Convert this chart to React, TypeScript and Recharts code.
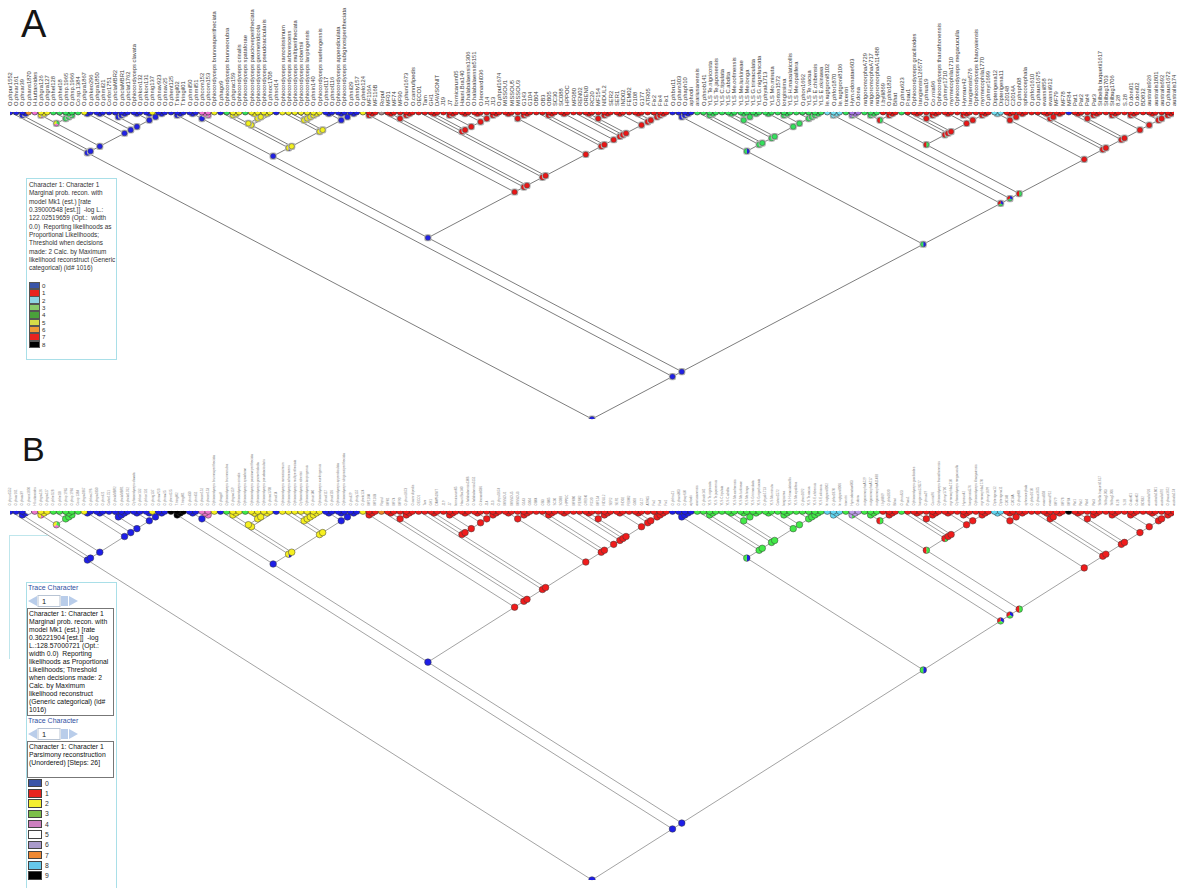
import React from 'react';
import { ScatterChart, Scatter, XAxis, YAxis, ReferenceLine } from 'recharts';

// ---------------- DATA ----------------
const tipNames: string[] = [
  'O.phpur1552', 'O.phvar161', 'O.phvar39', 'O.phans1870', 'H.kuttaroides', 'O.phgra126', 'O.phgra127', 'O.phhel128', 'O.phhel18', 'O.phsp.1965',
  'O.phsp.1966', 'Co.sp.1384', 'O.phgra1867', 'O.phkeo296', 'O.phgra1850', 'O.phmil21', 'Corfor1751', 'O.phclaMBR2', 'O.phclaMBR1', 'O.phclat1762',
  'Ophiocordyceps clavata', 'O.phkon132', 'O.phkon131', 'O.phnig137', 'O.phnav923', 'O.phnav25', 'O.phent125', 'T.tringil02', 'T.tringil01', 'O.phmil50',
  'O.phmil51', 'O.phcom152', 'O.phcom153', 'Ophiocordyceps brunneaperitheciata', 'O.phago9', 'Ophiocordyceps brunneorubra', 'O.phgrac159', 'Ophiocordyceps crinalis', 'Ophiocordyceps spataforae', 'Ophiocordyceps paucioveperitheciata',
  'Ophiocordyceps geometridicola', 'Ophiocordyceps pseudoacicularis', 'O.phnoc1708', 'O.phsol14', 'Ophiocordyceps ramosissimum', 'Ophiocordyceps arborescens', 'Ophiocordyceps multiperitheciata', 'Ophiocordyceps robertsii', 'Ophiocordyceps lanpingensis', 'O.phsin140',
  'Ophiocordyceps xuefengensis', 'O.phsol117', 'O.phsol116', 'Ophiocordyceps appendiculata', 'Ophiocordyceps rubiginosiperitheciata', 'O.phsil29', 'O.phsty157', 'O.phelo124', 'MF116A', 'MF116B',
  'Ropul', 'MF01', 'MF74', 'MF90', 'O.phuni1673', 'O.camrufipedis', 'OECO1', 'Tam', 'GH1', 'DAWSONIT',
  'J19', 'J7', 'formicarum05', 'Hauni.Bra140', 'O.halabalaensis1306', 'O.halabalaensis5151', 'O.leonardi036', 'J14', 'J13', 'O.phpul1674',
  'MISSOU1', 'MISSOU5', 'MISSOU3', 'G143', 'G104', 'OB04', 'OB3', 'OB05', 'SC30', 'SC088',
  'HPPOC', 'MF080', 'REN02', 'OREN0', 'RC20', 'MF154', 'NIDUL2', 'SER2', 'SER1', 'IND02',
  'FEM02', 'G108', 'G177', 'ATR05', 'Fix2', 'Fix4', 'Fix1', 'O.phbru11', 'O.pham303', 'O.phaph10',
  'aphodii', 'arariusanensis', 'O.phsob141', 'YLS Te.nigricosta', 'YLS Te.japonensis', 'YLS C.tipulata', 'YLS C.abdita', 'YLS Me.oofmensis', 'YLS Me.lurkineae', 'YLS Me.longa',
  'YLS G.trimaculata', 'YLS G.nigrofuscata', 'O.phyak1713', 'YLS Mo.minuta', 'Corton1572', 'longissima', 'YLS H.maculaticollis', 'YLS Me.opalifera', 'O.phon1692', 'YLS Te.vacua',
  'YLS E.chibensis', 'YLS E.okinawa', 'Ie.rugtgroni8102', 'O.phfor1870', 'Ie.rugtgroni8106', 'tricentri', 'Hym.odonatae603', 'O.dona', 'nutgoromorphaA729', 'nutgoromorphaA717',
  'nutgoromorphaA11488', 'I.bylli869', 'O.phlo1820', 'Bihat', 'O.phnu623', 'P.sau1', 'Ophiocordyceps gracilioides', 'Irangiensis126577', 'O.phrua19', 'Co.rnia96',
  'Ophiocordyceps thanathonensis', 'O.phmyr1710', 'myrmecophila1710', 'Ophiocordyceps megacuculla', 'Hymsun42', 'Irangiensis576', 'Ophiocordyceps khaoyaiensis', 'myrmecophila1770', 'O.phmyr1699', 'Dipterigena12',
  'Dipterigena11', 'C20148', 'C2014A', 'O.phsph08', 'sphecocephala', 'O.phfor1610', 'O.phaus1675', 'evansii858', 'evansii912', 'MF79',
  'MF78', 'MF84', 'Pat1', 'Pat2', 'Pat4', 'Pat3', 'Stilbella buquetii1617', 'Stilbug1703', 'Stilbug1706', '8.28',
  'S.28', 'O.doni01', 'O.doni02', 'BD832', 'australis926', 'australis1801', 'australis692', 'O.phaus1672', 'australis174',
];

// tip character states, one letter per taxon, left to right
const tipStatesA: string[] = [
  'bbbopyygggggy', 'bbbbbbbbbb', 'y', 'bbbbbbb', 'ppybgyygyyyyb', 'yyyyyyy', 'bbbbbb', 'y', 'rrn',
  'rrrrrrrrrr', 'rrrrrrrrrr', 'rrrrrrrrrr', 'rrrrrrrrrr', 'rrrrrr',
  'bbbb', 'gggggggggg', 'gggggggggg', 'g', 'ccc', 'g', 'vv', 'ggg', 'rrr', 'g',
  'rrrrrrrrrr', 'rrrr', 'cc', 'rrrrrrrrrr', 'b', 'rrrrrrrrrr', 'rrrrrrr',
].join('').split('');

const tipStatesB: string[] = [
  'bbbwpyygggggy', 'bbbbbbbbbb', 'y', 'bbkkkbb', 'ppybgyygyyyyb', 'yyyyyyy', 'bbbbbb', 'y', 'rro',
  'rrrrrrrrrr', 'rrrrrrrrrr', 'rrrrrrrrrr', 'rrrrrrrrrr', 'rrrrrr',
  'bbbb', 'gggggggggg', 'gggggggggg', 'g', 'ccc', 'g', 'vv', 'ggg', 'rrr', 'g',
  'rrrrrrrrrr', 'rrrr', 'cc', 'rrrrrrrrrr', 'k', 'rrrrrrrrrr', 'rrrrrrr',
].join('').split('');

// clades: [first taxon, last taxon, reconstructed state (panel A), state in panel B if different]
const clades: [number, number, string, string?][] = [
  [0, 188, 'b'],
  [0, 25, 'b'], [1, 25, 'b'], [1, 3, 'b'], [2, 3, 'b'], [4, 25, 'b'], [4, 11, 'gpy'], [4, 6, 'py'], [5, 6, 'y'],
  [7, 11, 'g'], [8, 11, 'g'], [9, 11, 'g'], [9, 10, 'g'],
  [12, 25, 'b'], [12, 13, 'b'], [14, 25, 'b'], [14, 15, 'b'], [16, 25, 'b'], [16, 19, 'b'], [17, 19, 'b'], [18, 19, 'b'],
  [20, 25, 'b'], [20, 21, 'b'], [22, 25, 'b'], [22, 23, 'b'], [24, 25, 'b'],
  [26, 188, 'b'], [26, 28, 'b', 'k'], [27, 28, 'b', 'k'],
  [29, 188, 'b'],
  [29, 106, 'b'],
  [29, 56, 'b'], [29, 33, 'b'], [29, 30, 'b'], [31, 33, 'p'], [31, 32, 'p'],
  [34, 56, 'by'], [35, 56, 'y'], [35, 43, 'y'], [35, 42, 'y'], [35, 37, 'y'], [36, 37, 'y'], [38, 42, 'y'], [39, 42, 'y'], [39, 40, 'y'], [41, 42, 'y'],
  [44, 56, 'y'], [45, 56, 'y'], [45, 50, 'y'], [46, 50, 'y'], [47, 50, 'y'], [48, 50, 'y'], [49, 50, 'y'],
  [51, 56, 'b'], [51, 52, 'b'], [53, 56, 'b'], [53, 54, 'b'], [55, 56, 'b'],
  [57, 106, 'r'], [57, 59, 'r'], [58, 59, 'r'], [60, 106, 'r'], [61, 106, 'r'], [61, 65, 'r'], [61, 62, 'r'], [63, 65, 'r'], [64, 65, 'r'],
  [66, 106, 'r'], [67, 106, 'r'],
  [67, 79, 'r'], [68, 79, 'r'], [68, 69, 'r'], [70, 79, 'r'], [70, 72, 'r'], [71, 72, 'r'], [73, 79, 'r'], [73, 74, 'r'],
  [75, 79, 'r'], [75, 76, 'r'], [77, 79, 'r'], [78, 79, 'r'],
  [80, 106, 'r'], [80, 84, 'r'], [80, 81, 'r'], [82, 84, 'r'], [83, 84, 'r'], [85, 106, 'r'], [86, 106, 'r'], [86, 88, 'r'], [87, 88, 'r'],
  [89, 106, 'r'], [89, 90, 'r'], [91, 106, 'r'], [92, 106, 'r'], [93, 106, 'r'], [93, 97, 'r'], [93, 94, 'r'], [95, 97, 'r'], [96, 97, 'r'],
  [98, 106, 'r'], [98, 99, 'r'], [100, 106, 'r'], [101, 106, 'r'], [101, 102, 'r'], [103, 106, 'r'], [104, 106, 'r'], [105, 106, 'r'],
  [107, 188, 'bg'],
  [107, 131, 'bg'], [107, 110, 'b'], [108, 110, 'b'], [109, 110, 'b'], [111, 131, 'g'], [112, 131, 'g'], [112, 114, 'g'], [113, 114, 'g'],
  [115, 131, 'g'], [116, 131, 'g'], [116, 121, 'g'], [116, 117, 'g'], [118, 121, 'g'], [118, 119, 'g'], [120, 121, 'g'],
  [122, 131, 'g'], [122, 123, 'g'], [124, 131, 'g'], [124, 126, 'g'], [125, 126, 'g'], [127, 131, 'g'], [128, 131, 'g'], [129, 131, 'g'], [130, 131, 'g'],
  [132, 188, 'bgr'], [132, 134, 'c'], [133, 134, 'c'], [135, 188, 'bgr'], [135, 137, 'gv'], [136, 137, 'v'], [138, 188, 'gr'],
  [138, 158, 'gr'], [138, 143, 'gr'], [138, 140, 'g'], [139, 140, 'g'], [141, 143, 'r'], [142, 143, 'r'], [144, 158, 'gr'], [145, 158, 'r'],
  [146, 158, 'r'], [146, 150, 'r'], [146, 147, 'r'], [148, 150, 'r'], [149, 150, 'r'], [151, 158, 'r'], [151, 152, 'r'],
  [153, 158, 'r'], [153, 155, 'r'], [154, 155, 'r'], [156, 158, 'r'], [157, 158, 'r'],
  [159, 188, 'r'], [159, 164, 'r'], [159, 160, 'c'], [161, 164, 'r'], [161, 162, 'r'], [163, 164, 'r'], [165, 188, 'r'], [166, 188, 'r'],
  [166, 170, 'r'], [167, 170, 'r'], [167, 168, 'r'], [169, 170, 'r'], [171, 188, 'r'], [172, 188, 'r'], [172, 176, 'r'], [172, 173, 'r'],
  [174, 176, 'r'], [175, 176, 'r'], [177, 188, 'r'], [177, 179, 'r'], [178, 179, 'r'], [180, 188, 'r'], [180, 182, 'r'], [181, 182, 'r'],
  [183, 188, 'r'], [184, 188, 'r'], [184, 185, 'r'], [186, 188, 'r'], [187, 188, 'r'],
];

const legendStatesA = ['0', '1', '2', '3', '4', '5', '6', '7', '8'];
const legendColorsA = ['#3a55a8', '#e8231f', '#8fd4e3', '#8acb6a', '#4aa03a', '#d6dc48', '#f09a36', '#e8231f', '#000000'];
const legendStatesB = ['0', '1', '2', '3', '4', '5', '6', '7', '8', '9'];
const legendColorsB = ['#3a55a8', '#e8231f', '#f5ee30', '#7cbf4a', '#cc7fbf', '#ffffff', '#a99acb', '#ee8833', '#66c8ea', '#000000'];

const legendTextA = [
  'Character 1: Character 1',
  'Marginal prob. recon. with',
  'model Mk1 (est.) [rate',
  '0.39000548 [est.]]  -log L.:',
  '122.02519659 (Opt.:  width',
  '0.0)  Reporting likelihoods as',
  'Proportional Likelihoods;',
  'Threshold when decisions',
  'made: 2 Calc. by Maximum',
  'likelihood reconstruct (Generic',
  'categorical) (id# 1016)',
];
const legendTextB1 = [
  'Character 1: Character 1',
  'Marginal prob. recon. with',
  'model Mk1 (est.) [rate',
  '0.36221904 [est.]]  -log',
  'L.:128.57000721 (Opt.:',
  'width 0.0)  Reporting',
  'likelihoods as Proportional',
  'Likelihoods; Threshold',
  'when decisions made: 2',
  'Calc. by Maximum',
  'likelihood reconstruct',
  '(Generic categorical) (id#',
  '1016)',
];
const legendTextB2 = ['Character 1: Character 1', 'Parsimony reconstruction', '(Unordered) [Steps: 26]'];

const paletteA: Record<string, string> = {
  b: '#2020e6', r: '#ea1616', y: '#f2f020', g: '#34e05c', c: '#72def0', p: '#f070d2', v: '#a676e2', o: '#f0922c', n: '#a89090', k: '#111111', w: '#ffffff',
};
const paletteB: Record<string, string> = {
  b: '#1e1ee8', r: '#f01c1c', y: '#f6f020', g: '#42ea48', c: '#62d6f2', p: '#ee78cc', v: '#bc9ee8', o: '#f08a28', n: '#a89090', k: '#000000', w: '#ffffff',
};

// ---------------- TREE LAYOUT (slanted cladogram) ----------------
type Pt = { x: number; y: number; st: string };
type Seg = { x1: number; y1: number; x2: number; y2: number };

function buildTree(tipStates: string[], panel: 'A' | 'B') {
  const n = tipStates.length;
  const list = clades.map((c) => ({ a: c[0], b: c[1], st: panel === 'B' && c[3] ? c[3] : c[2] }));
  const sorted = [...list].sort((p, q) => (p.b - p.a) - (q.b - q.a));
  const parentOf = new Map<any, any>();
  sorted.forEach((c, i) => {
    for (let j = i + 1; j < sorted.length; j++) {
      const d = sorted[j];
      if (d.a <= c.a && d.b >= c.b && (d.b - d.a) > (c.b - c.a)) { parentOf.set(c, d); break; }
    }
  });
  const nodes: Pt[] = [];
  const segs: Seg[] = [];
  list.forEach((c) => {
    const px = (c.a + c.b) / 2;
    const py = (c.b - c.a) / 2;
    nodes.push({ x: px, y: py, st: c.st });
    const kids = list.filter((d) => parentOf.get(d) === c);
    kids.forEach((d) => segs.push({ x1: px, y1: py, x2: (d.a + d.b) / 2, y2: (d.b - d.a) / 2 }));
    for (let i = c.a; i <= c.b; i++) {
      if (!kids.some((d) => d.a <= i && i <= d.b)) segs.push({ x1: px, y1: py, x2: i, y2: 0 });
    }
  });
  const tips: Pt[] = tipStates.map((s, i) => ({ x: i, y: 0, st: s }));
  return { nodes, segs, tips, n };
}

// ---------------- SHAPES ----------------
function pieShape(cx: number, cy: number, r: number, colors: string[], stroke: string, sw: number, key?: string) {
  if (colors.length === 1) return <circle key={key} cx={cx} cy={cy} r={r} fill={colors[0]} stroke={stroke} strokeWidth={sw} />;
  const k = colors.length;
  return (
    <g key={key}>
      {colors.map((col, i) => {
        const a0 = -Math.PI / 2 + (2 * Math.PI * i) / k;
        const a1 = -Math.PI / 2 + (2 * Math.PI * (i + 1)) / k;
        const d = `M${cx},${cy} L${cx + r * Math.cos(a0)},${cy + r * Math.sin(a0)} A${r},${r} 0 0 1 ${cx + r * Math.cos(a1)},${cy + r * Math.sin(a1)} Z`;
        return <path key={i} d={d} fill={col} />;
      })}
      <circle cx={cx} cy={cy} r={r} fill="none" stroke={stroke} strokeWidth={sw} />
    </g>
  );
}

const TreePanel = ({ panel, top, height, marginTop, axisH, marginBottom, maxDepth }: any) => {
  const tipStates = panel === 'A' ? tipStatesA : tipStatesB;
  const pal = panel === 'A' ? paletteA : paletteB;
  const { nodes, segs, tips, n } = buildTree(tipStates, panel);
  const ticks = tips.map((t) => t.x);
  const isA = panel === 'A';
  const labelSize = isA ? 5.8 : 3.1;
  const labelFill = isA ? '#3c3c3c' : '#808080';
  const labelGap = isA ? 6 : 5.5;

  const TipLabel = (props: any) => {
    const { x, y, payload } = props;
    const yy = y - labelGap;
    return (
      <text x={x} y={yy} dy={labelSize * 0.36} transform={`rotate(-90 ${x} ${yy})`} fontSize={labelSize}
        fill={labelFill} fontFamily="'Liberation Sans', Arial, sans-serif" textAnchor="start">
        {tipNames[payload.value]}
      </text>
    );
  };

  const nodeShape = (props: any) => {
    const { cx, cy, payload } = props;
    if (cx == null || cy == null) return <g />;
    const cols = payload.st.split('').map((s: string) => pal[s]);
    if (isA) {
      return (
        <g>
          <rect x={cx - 3.6} y={cy - 3.6} width={7.2} height={7.2} rx={2.2} fill="#b4b4b4" />
          {pieShape(cx, cy, 2.6, cols, '#444', 0.4)}
        </g>
      );
    }
    return pieShape(cx, cy, 3.3, cols, '#3a3a3a', 0.5);
  };
  const tipShape = (props: any) => {
    const { cx, cy, payload } = props;
    if (cx == null || cy == null) return <g />;
    return pieShape(cx, cy, isA ? 3.0 : 3.4, [pal[payload.st]], '#2a2a2a', isA ? 0.6 : 0.5);
  };

  return (
    <div style={{ position: 'absolute', left: 0, top, width: 1177, height }}>
      <ScatterChart width={1177} height={height} margin={{ top: marginTop, left: 10, right: 3, bottom: marginBottom }}>
        <XAxis type="number" dataKey="x" domain={[0, n - 1]} orientation="top" ticks={ticks} interval={0}
          tick={<TipLabel />} tickSize={0} tickMargin={0} axisLine={false} tickLine={false} height={axisH} allowDataOverflow />
        <YAxis type="number" dataKey="y" domain={[0, maxDepth]} reversed hide allowDataOverflow />
        {segs.map((s, i) => (
          <ReferenceLine key={i} segment={[{ x: s.x1, y: s.y1 }, { x: s.x2, y: s.y2 }]}
            stroke={isA ? '#6e6e6e' : '#8c8c8c'} strokeWidth={isA ? 0.9 : 0.8} ifOverflow="visible" />
        ))}
        <Scatter data={nodes} shape={nodeShape} isAnimationActive={false} />
        <Scatter data={tips} shape={tipShape} isAnimationActive={false} />
      </ScatterChart>
    </div>
  );
};

const font = "'Liberation Sans', Arial, sans-serif";

const Spinner = ({ top }: { top: number }) => (
  <div style={{ position: 'absolute', left: 27, top, width: 60, height: 12 }}>
    <svg width={60} height={12}>
      <polygon points="1,6 10,1 10,11" fill="#b9cdea" />
      <rect x={11} y={0.5} width={22} height={11} fill="#fff" stroke="#b8c4d4" />
      <text x={15} y={9} fontSize={7.5} fontFamily={font} fill="#222">1</text>
      <rect x={34} y={1} width={7} height={10} fill="#b9cdea" />
      <polygon points="42,1 51,6 42,11" fill="#b9cdea" />
    </svg>
  </div>
);

export default function App() {
  return (
    <div style={{ position: 'absolute', left: 0, top: 0, width: 1177, height: 888, background: '#fff', overflow: 'hidden' }}>
      <TreePanel panel="A" top={0} height={430} marginTop={12} axisH={100} marginBottom={11} maxDepth={94} />
      <TreePanel panel="B" top={430} height={458} marginTop={1} axisH={80} marginBottom={8} maxDepth={94} />

      <div style={{ position: 'absolute', left: 21, top: 3, fontFamily: font, fontSize: 38, color: '#151515' }}>A</div>
      <div style={{ position: 'absolute', left: 22, top: 430, fontFamily: font, fontSize: 34, color: '#151515' }}>B</div>

      {/* Legend A */}
      <div style={{ position: 'absolute', left: 26, top: 178, width: 89, height: 180, border: '1px solid #a9dfe8', background: '#fff' }} />
      <div style={{ position: 'absolute', left: 29, top: 181, fontFamily: font, fontSize: 6.4, lineHeight: '8.35px', color: '#333', whiteSpace: 'pre' }}>
        {legendTextA.map((t, i) => <div key={i}>{t}</div>)}
      </div>
      {legendStatesA.map((s, i) => (
        <div key={s} style={{ position: 'absolute', left: 29, top: 282 + i * 7.35, height: 7, display: 'flex', alignItems: 'center' }}>
          <div style={{ width: 9, height: 5.5, background: legendColorsA[i], border: '0.6px solid #555' }} />
          <div style={{ marginLeft: 2, fontFamily: font, fontSize: 6.2, color: '#333' }}>{s}</div>
        </div>
      ))}

      {/* Legend B */}
      <div style={{ position: 'absolute', left: 9, top: 535, width: 38, height: 123, borderLeft: '1px solid #bfe6ec', borderTop: '1px solid #bfe6ec' }} />
      <div style={{ position: 'absolute', left: 26, top: 582, width: 89, height: 310, border: '1px solid #a9dfe8', background: '#fff' }} />
      <div style={{ position: 'absolute', left: 28, top: 584, fontFamily: font, fontSize: 7, color: '#2f4f9f' }}>Trace Character</div>
      <Spinner top={593} />
      <div style={{ position: 'absolute', left: 27, top: 608, width: 85, height: 106, border: '1px solid #777', background: '#fff' }} />
      <div style={{ position: 'absolute', left: 29, top: 610, fontFamily: font, fontSize: 6.8, lineHeight: '8px', color: '#111', whiteSpace: 'pre' }}>
        {legendTextB1.map((t, i) => <div key={i}>{t}</div>)}
      </div>
      <div style={{ position: 'absolute', left: 28, top: 717, fontFamily: font, fontSize: 7, color: '#2f4f9f' }}>Trace Character</div>
      <Spinner top={726} />
      <div style={{ position: 'absolute', left: 27, top: 741, width: 85, height: 35, border: '1px solid #777', background: '#fff' }} />
      <div style={{ position: 'absolute', left: 29, top: 743, fontFamily: font, fontSize: 6.8, lineHeight: '8px', color: '#111', whiteSpace: 'pre' }}>
        {legendTextB2.map((t, i) => <div key={i}>{t}</div>)}
      </div>
      {legendStatesB.map((s, i) => (
        <div key={s} style={{ position: 'absolute', left: 28, top: 779 + i * 10.3, height: 8, display: 'flex', alignItems: 'center' }}>
          <div style={{ width: 12, height: 6.5, background: legendColorsB[i], border: '0.8px solid #444' }} />
          <div style={{ marginLeft: 3, fontFamily: font, fontSize: 6.8, color: '#333' }}>{s}</div>
        </div>
      ))}
    </div>
  );
}
